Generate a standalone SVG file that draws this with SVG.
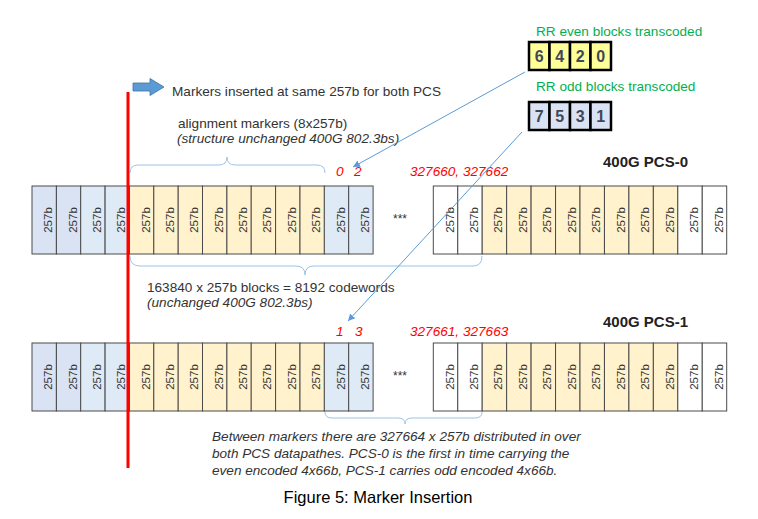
<svg xmlns="http://www.w3.org/2000/svg" width="758" height="519" viewBox="0 0 758 519">
<style>
text{font-family:"Liberation Sans",Arial,sans-serif;}
.b rect{stroke:#4a4a4a;stroke-width:1;}
.b text{font-size:11.5px;fill:#333;text-anchor:middle;}
.bl1 rect{fill:#dae3f3;}
.bl2 rect{fill:#deebf7;}
.ye rect{fill:#fff2cc;}
.wh rect{fill:#ffffff;}
.lbl{font-size:13.6px;fill:#333;}
.it{font-style:italic;}
.red{font-size:13.6px;fill:#ff0000;font-style:italic;}
.pcs{font-size:15px;font-weight:bold;fill:#222;}
.grn{font-size:13.6px;fill:#00b050;}
.rr rect{stroke:#000;stroke-width:2.5;}
.rr text{font-size:16px;font-weight:bold;fill:#404858;text-anchor:middle;}
.brace{fill:none;stroke:#9dc3e6;stroke-width:1;}
.conn{fill:none;stroke:#5b9bd5;stroke-width:1;}
.dots{font-size:12px;fill:#333;text-anchor:middle;}
</style>
<defs>
<marker id="ah" markerWidth="8" markerHeight="8" refX="7" refY="4" orient="auto" markerUnits="userSpaceOnUse">
<path d="M0,0.5 L7,4 L0,7.5 z" fill="#5b9bd5"/>
</marker>
</defs>
<rect width="758" height="519" fill="#ffffff"/>

<!-- Row 1 (PCS-0) left group -->
<g id="r1-l01" class="b bl1"><rect x="32" y="186" width="24.4" height="68"/><text transform="translate(48.2 220) rotate(-90)" dy="4">257b</text></g>
<g id="r1-l02" class="b bl1"><rect x="56.4" y="186" width="24.4" height="68"/><text transform="translate(72.6 220) rotate(-90)" dy="4">257b</text></g>
<g id="r1-l03" class="b bl2"><rect x="80.7" y="186" width="24.4" height="68"/><text transform="translate(96.9 220) rotate(-90)" dy="4">257b</text></g>
<g id="r1-l04" class="b bl2"><rect x="105.1" y="186" width="24.4" height="68"/><text transform="translate(121.3 220) rotate(-90)" dy="4">257b</text></g>
<g id="r1-l05" class="b ye"><rect x="129.4" y="186" width="24.4" height="68"/><text transform="translate(145.6 220) rotate(-90)" dy="4">257b</text></g>
<g id="r1-l06" class="b ye"><rect x="153.8" y="186" width="24.4" height="68"/><text transform="translate(170 220) rotate(-90)" dy="4">257b</text></g>
<g id="r1-l07" class="b ye"><rect x="178.2" y="186" width="24.4" height="68"/><text transform="translate(194.4 220) rotate(-90)" dy="4">257b</text></g>
<g id="r1-l08" class="b ye"><rect x="202.5" y="186" width="24.4" height="68"/><text transform="translate(218.7 220) rotate(-90)" dy="4">257b</text></g>
<g id="r1-l09" class="b ye"><rect x="226.9" y="186" width="24.4" height="68"/><text transform="translate(243.1 220) rotate(-90)" dy="4">257b</text></g>
<g id="r1-l10" class="b ye"><rect x="251.2" y="186" width="24.4" height="68"/><text transform="translate(267.4 220) rotate(-90)" dy="4">257b</text></g>
<g id="r1-l11" class="b ye"><rect x="275.6" y="186" width="24.4" height="68"/><text transform="translate(291.8 220) rotate(-90)" dy="4">257b</text></g>
<g id="r1-l12" class="b ye"><rect x="300" y="186" width="24.4" height="68"/><text transform="translate(316.2 220) rotate(-90)" dy="4">257b</text></g>
<g id="r1-l13" class="b bl2"><rect x="324.3" y="186" width="24.4" height="68"/><text transform="translate(340.5 220) rotate(-90)" dy="4">257b</text></g>
<g id="r1-l14" class="b bl2"><rect x="348.7" y="186" width="24.4" height="68"/><text transform="translate(364.9 220) rotate(-90)" dy="4">257b</text></g>
<text class="dots" x="400" y="223">***</text>
<!-- Row 1 right group -->
<g id="r1-r01" class="b wh"><rect x="433.3" y="186" width="24.45" height="68"/><text transform="translate(449.5 220) rotate(-90)" dy="4">257b</text></g>
<g id="r1-r02" class="b wh"><rect x="457.75" y="186" width="24.45" height="68"/><text transform="translate(474 220) rotate(-90)" dy="4">257b</text></g>
<g id="r1-r03" class="b ye"><rect x="482.2" y="186" width="24.45" height="68"/><text transform="translate(498.4 220) rotate(-90)" dy="4">257b</text></g>
<g id="r1-r04" class="b ye"><rect x="506.65" y="186" width="24.45" height="68"/><text transform="translate(522.9 220) rotate(-90)" dy="4">257b</text></g>
<g id="r1-r05" class="b ye"><rect x="531.1" y="186" width="24.45" height="68"/><text transform="translate(547.3 220) rotate(-90)" dy="4">257b</text></g>
<g id="r1-r06" class="b ye"><rect x="555.55" y="186" width="24.45" height="68"/><text transform="translate(571.8 220) rotate(-90)" dy="4">257b</text></g>
<g id="r1-r07" class="b ye"><rect x="580" y="186" width="24.45" height="68"/><text transform="translate(596.2 220) rotate(-90)" dy="4">257b</text></g>
<g id="r1-r08" class="b ye"><rect x="604.45" y="186" width="24.45" height="68"/><text transform="translate(620.7 220) rotate(-90)" dy="4">257b</text></g>
<g id="r1-r09" class="b ye"><rect x="628.9" y="186" width="24.45" height="68"/><text transform="translate(645.1 220) rotate(-90)" dy="4">257b</text></g>
<g id="r1-r10" class="b ye"><rect x="653.35" y="186" width="24.45" height="68"/><text transform="translate(669.6 220) rotate(-90)" dy="4">257b</text></g>
<g id="r1-r11" class="b wh"><rect x="677.8" y="186" width="24.45" height="68"/><text transform="translate(694 220) rotate(-90)" dy="4">257b</text></g>
<g id="r1-r12" class="b wh"><rect x="702.25" y="186" width="24.45" height="68"/><text transform="translate(718.5 220) rotate(-90)" dy="4">257b</text></g>

<!-- Row 2 (PCS-1) left group -->
<g id="r2-l01" class="b bl1"><rect x="32" y="343" width="24.4" height="68"/><text transform="translate(48.2 377) rotate(-90)" dy="4">257b</text></g>
<g id="r2-l02" class="b bl1"><rect x="56.4" y="343" width="24.4" height="68"/><text transform="translate(72.6 377) rotate(-90)" dy="4">257b</text></g>
<g id="r2-l03" class="b bl2"><rect x="80.7" y="343" width="24.4" height="68"/><text transform="translate(96.9 377) rotate(-90)" dy="4">257b</text></g>
<g id="r2-l04" class="b bl2"><rect x="105.1" y="343" width="24.4" height="68"/><text transform="translate(121.3 377) rotate(-90)" dy="4">257b</text></g>
<g id="r2-l05" class="b ye"><rect x="129.4" y="343" width="24.4" height="68"/><text transform="translate(145.6 377) rotate(-90)" dy="4">257b</text></g>
<g id="r2-l06" class="b ye"><rect x="153.8" y="343" width="24.4" height="68"/><text transform="translate(170 377) rotate(-90)" dy="4">257b</text></g>
<g id="r2-l07" class="b ye"><rect x="178.2" y="343" width="24.4" height="68"/><text transform="translate(194.4 377) rotate(-90)" dy="4">257b</text></g>
<g id="r2-l08" class="b ye"><rect x="202.5" y="343" width="24.4" height="68"/><text transform="translate(218.7 377) rotate(-90)" dy="4">257b</text></g>
<g id="r2-l09" class="b ye"><rect x="226.9" y="343" width="24.4" height="68"/><text transform="translate(243.1 377) rotate(-90)" dy="4">257b</text></g>
<g id="r2-l10" class="b ye"><rect x="251.2" y="343" width="24.4" height="68"/><text transform="translate(267.4 377) rotate(-90)" dy="4">257b</text></g>
<g id="r2-l11" class="b ye"><rect x="275.6" y="343" width="24.4" height="68"/><text transform="translate(291.8 377) rotate(-90)" dy="4">257b</text></g>
<g id="r2-l12" class="b ye"><rect x="300" y="343" width="24.4" height="68"/><text transform="translate(316.2 377) rotate(-90)" dy="4">257b</text></g>
<g id="r2-l13" class="b bl2"><rect x="324.3" y="343" width="24.4" height="68"/><text transform="translate(340.5 377) rotate(-90)" dy="4">257b</text></g>
<g id="r2-l14" class="b bl2"><rect x="348.7" y="343" width="24.4" height="68"/><text transform="translate(364.9 377) rotate(-90)" dy="4">257b</text></g>
<text class="dots" x="400" y="380">***</text>
<!-- Row 2 right group -->
<g id="r2-r01" class="b wh"><rect x="433.3" y="343" width="24.45" height="68"/><text transform="translate(449.5 377) rotate(-90)" dy="4">257b</text></g>
<g id="r2-r02" class="b wh"><rect x="457.75" y="343" width="24.45" height="68"/><text transform="translate(474 377) rotate(-90)" dy="4">257b</text></g>
<g id="r2-r03" class="b ye"><rect x="482.2" y="343" width="24.45" height="68"/><text transform="translate(498.4 377) rotate(-90)" dy="4">257b</text></g>
<g id="r2-r04" class="b ye"><rect x="506.65" y="343" width="24.45" height="68"/><text transform="translate(522.9 377) rotate(-90)" dy="4">257b</text></g>
<g id="r2-r05" class="b ye"><rect x="531.1" y="343" width="24.45" height="68"/><text transform="translate(547.3 377) rotate(-90)" dy="4">257b</text></g>
<g id="r2-r06" class="b ye"><rect x="555.55" y="343" width="24.45" height="68"/><text transform="translate(571.8 377) rotate(-90)" dy="4">257b</text></g>
<g id="r2-r07" class="b ye"><rect x="580" y="343" width="24.45" height="68"/><text transform="translate(596.2 377) rotate(-90)" dy="4">257b</text></g>
<g id="r2-r08" class="b ye"><rect x="604.45" y="343" width="24.45" height="68"/><text transform="translate(620.7 377) rotate(-90)" dy="4">257b</text></g>
<g id="r2-r09" class="b ye"><rect x="628.9" y="343" width="24.45" height="68"/><text transform="translate(645.1 377) rotate(-90)" dy="4">257b</text></g>
<g id="r2-r10" class="b ye"><rect x="653.35" y="343" width="24.45" height="68"/><text transform="translate(669.6 377) rotate(-90)" dy="4">257b</text></g>
<g id="r2-r11" class="b wh"><rect x="677.8" y="343" width="24.45" height="68"/><text transform="translate(694 377) rotate(-90)" dy="4">257b</text></g>
<g id="r2-r12" class="b wh"><rect x="702.25" y="343" width="24.45" height="68"/><text transform="translate(718.5 377) rotate(-90)" dy="4">257b</text></g>

<!-- RR transcoded blocks -->
<g id="rr-even">
<text class="grn" x="536" y="36">RR even blocks transcoded</text>
<g class="rr">
<rect x="529" y="42" width="20.5" height="28" fill="#ffff99"/>
<rect x="549.5" y="42" width="20.5" height="28" fill="#ffff99"/>
<rect x="570" y="42" width="20.5" height="28" fill="#ffff99"/>
<rect x="590.5" y="42" width="20.5" height="28" fill="#ffff99"/>
<text x="539.25" y="62">6</text><text x="559.75" y="62">4</text><text x="580.25" y="62">2</text><text x="600.75" y="62">0</text>
</g>
</g>
<g id="rr-odd">
<text class="grn" x="536" y="91">RR odd blocks transcoded</text>
<g class="rr">
<rect x="529" y="102" width="20.5" height="28" fill="#dae3f3"/>
<rect x="549.5" y="102" width="20.5" height="28" fill="#dae3f3"/>
<rect x="570" y="102" width="20.5" height="28" fill="#dae3f3"/>
<rect x="590.5" y="102" width="20.5" height="28" fill="#dae3f3"/>
<text x="539.25" y="122">7</text><text x="559.75" y="122">5</text><text x="580.25" y="122">3</text><text x="600.75" y="122">1</text>
</g>
</g>

<!-- Labels -->
<g id="marker-note">
<polygon points="133,83 150,83 150,78.5 164,87 150,95.5 150,91 133,91" fill="#5b9bd5" stroke="#41719c" stroke-width="0.8"/>
<text class="lbl" x="172" y="96">Markers inserted at same 257b for both PCS</text>
</g>
<g id="am-label">
<text class="lbl" x="178" y="128">alignment markers (8x257b)</text>
<text class="lbl it" x="177" y="143">(structure unchanged 400G 802.3bs)</text>
</g>
<g id="blocks-label">
<text class="lbl" x="147" y="292">163840 x 257b blocks = 8192 codewords</text>
<text class="lbl it" x="147" y="307">(unchanged 400G 802.3bs)</text>
</g>
<g id="pcs0-labels">
<text class="red" x="336" y="176">0</text>
<text class="red" x="354" y="176">2</text>
<text class="red" x="410" y="176">327660, 327662</text>
<text class="pcs" x="603" y="167">400G PCS-0</text>
</g>
<g id="pcs1-labels">
<text class="red" x="336" y="336">1</text>
<text class="red" x="355" y="336">3</text>
<text class="red" x="410" y="336">327661, 327663</text>
<text class="pcs" x="603" y="327">400G PCS-1</text>
</g>
<g id="between-note">
<text class="lbl it" x="212" y="441">Between markers there are 327664 x 257b distributed in over</text>
<text class="lbl it" x="212" y="458">both PCS datapathes. PCS-0 is the first in time carrying the</text>
<text class="lbl it" x="212" y="475">even encoded 4x66b, PCS-1 carries odd encoded 4x66b.</text>
</g>
<text x="378" y="503" font-size="16.5" fill="#000" text-anchor="middle">Figure 5: Marker Insertion</text>

<!-- Braces -->
<g id="braces">
<path class="brace" d="M130,173 Q130,165 138,165 L219,165 Q227,165 227,157 Q227,165 235,165 L317,165 Q325,165 325,173"/>
<path class="brace" d="M130,256 Q130,266 140,266 L296,266 Q305,266 305,275 Q305,266 314,266 L473,266 Q482,266 482,256"/>
<path class="brace" d="M325,412 Q325,418 332,418 L398,418 Q405,418 405,424 Q405,418 412,418 L475,418 Q482,418 482,412"/>
</g>

<!-- Red marker line -->
<line x1="128" y1="92" x2="128" y2="468" stroke="#ff0000" stroke-width="3"/>

<!-- Connectors -->
<g id="connectors">
<line class="conn" x1="525" y1="72" x2="353" y2="167" marker-end="url(#ah)"/>
<line class="conn" x1="522" y1="132" x2="348" y2="321" marker-end="url(#ah)"/>
</g>
</svg>
